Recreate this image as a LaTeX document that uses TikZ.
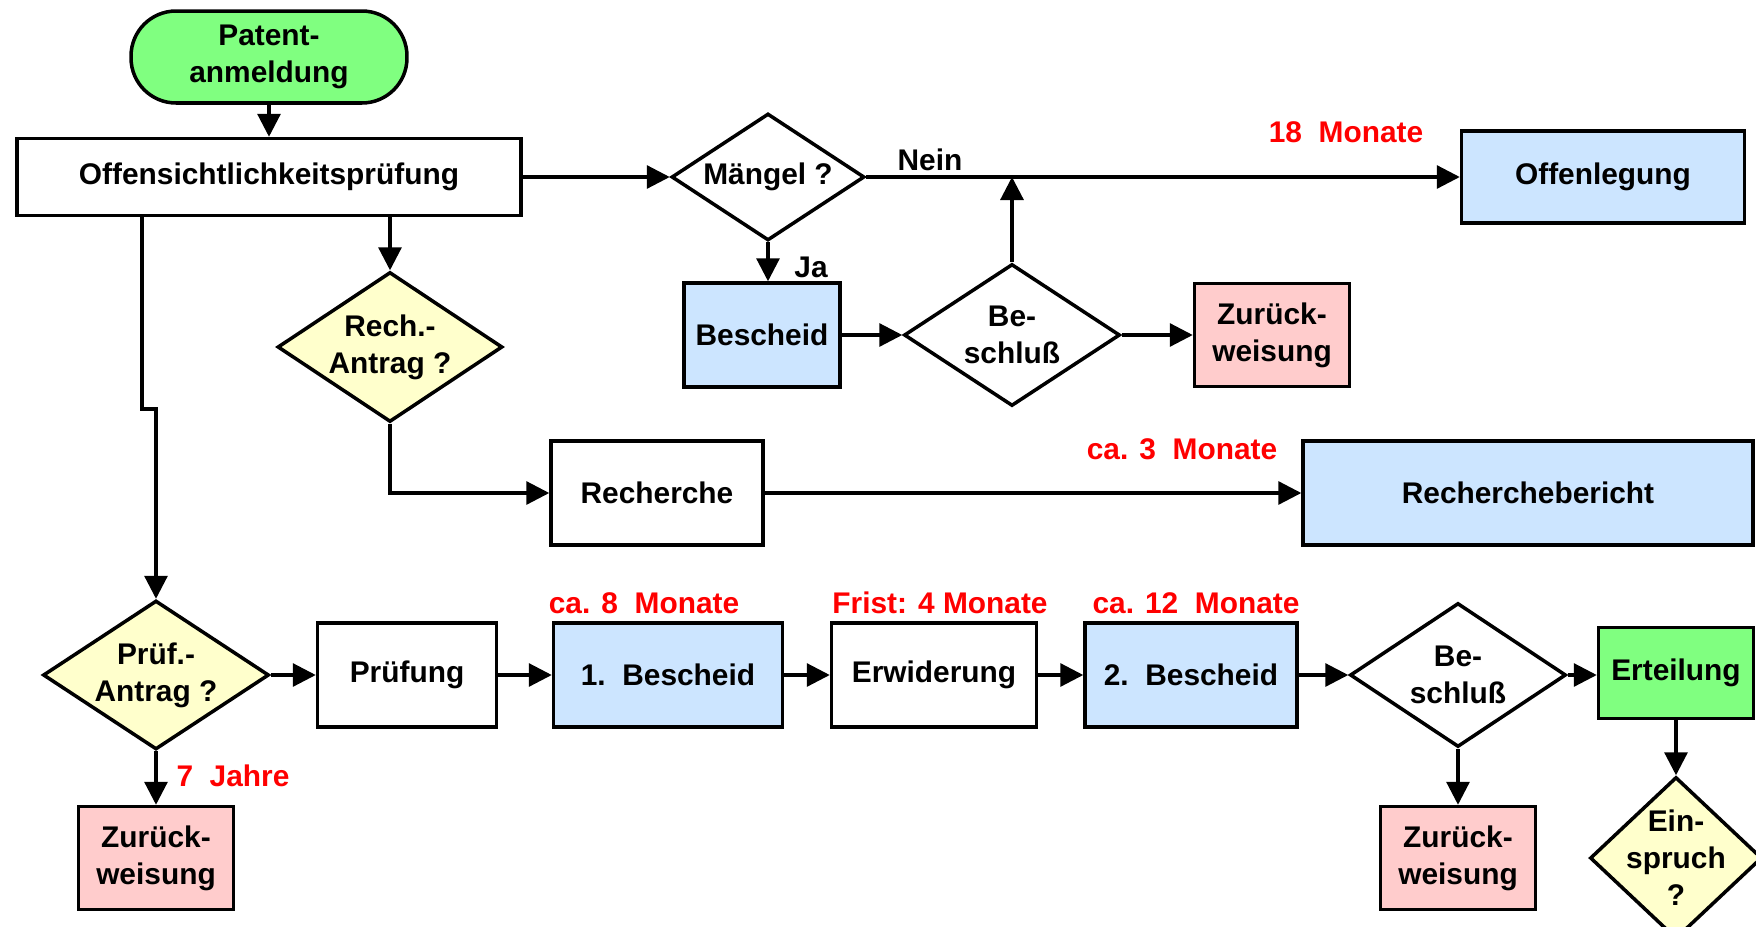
\documentclass[tikz,border=0pt]{standalone}
\usepackage{fontspec}
\setmainfont{Liberation Sans}
\usetikzlibrary{arrows.meta,positioning,shapes.geometric,calc}

\definecolor{startgreen}{HTML}{80FF80}
\definecolor{infoblue}{HTML}{CCE5FF}
\definecolor{askyellow}{HTML}{FFFFCC}
\definecolor{rejectpink}{HTML}{FFCCCC}

\begin{document}
\begin{tikzpicture}[x=0.02cm,y=-0.02cm]
		% Styles
		\tikzset{
			every node/.style={font=\fontsize{17}{21}\selectfont\bfseries},
			box/.style={draw=black, line width=2pt, rectangle, minimum height=2.08cm, align=center, inner sep=0pt},
			decision/.style={draw=black, line width=2pt, diamond, align=center, inner sep=0pt, shape aspect=1.5},
			flow/.style={line width=1.8pt, -{Triangle[length=0.46cm,width=0.46cm]}},
			dur/.style={text=red}
		}

		\useasboundingbox (0,0) rectangle (1756,927);

		% Top row
		\node[box, fill=startgreen, rounded corners=0.9cm, minimum width=5.52cm, minimum height=1.84cm] (start) at (269,57) {Patent-\\anmeldung};
		\node[box, minimum width=10.08cm, minimum height=1.54cm] (offcheck) at (269,177) {Offensichtlichkeitsprüfung};
		\node[decision, minimum width=3.86cm, minimum height=2.54cm] (maengel) at (768,177) {Mängel ?};
		\node[box, fill=infoblue, minimum width=5.66cm, minimum height=1.84cm] (offen) at (1603,177) {Offenlegung};

		% Defects branch
		\node[box, fill=infoblue, minimum width=3.12cm] (notice) at (762,335) {Bescheid};
		\node[decision, minimum width=4.32cm, minimum height=2.84cm] (decide1) at (1012,335) {Be-\\schluß};
		\node[box, fill=rejectpink, minimum width=3.1cm, minimum height=2.06cm] (reject1) at (1272,335) {Zurück-\\weisung};

		% Search branch
		\node[decision, fill=askyellow, minimum width=4.5cm, minimum height=3.0cm] (searchq) at (390,347) {Rech.-\\Antrag ?};
		\node[box, minimum width=4.24cm] (search) at (657,493) {Recherche};
		\node[box, fill=infoblue, minimum width=9.0cm] (report) at (1528,493) {Recherchebericht};

		% Examination row
		\node[decision, fill=askyellow, minimum width=4.52cm, minimum height=2.98cm] (examq) at (156,675) {Prüf.-\\Antrag ?};
		\node[box, minimum width=3.58cm] (exam) at (407,675) {Prüfung};
		\node[box, fill=infoblue, minimum width=4.58cm] (notice1) at (668,675) {1.\ \ Bescheid};
		\node[box, minimum width=4.1cm] (reply) at (934,675) {Erwiderung};
		\node[box, fill=infoblue, minimum width=4.24cm] (notice2) at (1191,675) {2.\ \ Bescheid};
		\node[decision, minimum width=4.32cm, minimum height=2.88cm] (decide2) at (1458,675) {Be-\\schluß};
		\node[box, fill=startgreen, minimum width=3.1cm, minimum height=1.82cm] (grant) at (1676,673) {Erteilung};

		% Bottom row
		\node[box, fill=rejectpink, minimum width=3.1cm, minimum height=2.06cm] (reject0) at (156,858) {Zurück-\\weisung};
		\node[box, fill=rejectpink, minimum width=3.1cm, minimum height=2.06cm] (reject2) at (1458,858) {Zurück-\\weisung};
		\node[decision, fill=askyellow, shape aspect=1.06, inner sep=-0.4cm, minimum width=3.44cm, minimum height=3.24cm] (oppose) at (1676,858) {Ein-\\spruch\\?};

		% Durations
		\node[dur] (t18) at (1346,132) {18\ \ Monate};
		\node[dur] (t3) at (1182,449) {ca. 3\ \ Monate};
		\node[dur, above=1pt of notice1, xshift=-0.48cm] (t8) {ca. 8\ \ Monate};
		\node[dur, above=1pt of reply, xshift=0.12cm] (t4) {Frist: 4 Monate};
		\node[dur, above=1pt of notice2, xshift=0.1cm] (t12) {ca. 12\ \ Monate};
		\node[dur] (t7) at (233,776) {7\ \ Jahre};

		% Connectors
		\coordinate (leftdrop) at (142,409);
		\draw[flow] (start) -- (offcheck);
		\draw[flow] (offcheck) -- (maengel);
		\draw[flow] (maengel.east) -- (offen.west);
		\node (no) at (930,160) {Nein};
		\draw[flow] (maengel.south) -- (maengel.south |- notice.north);
		\node (yes) at (811,267) {Ja};
		\draw[flow] (notice) -- (decide1);
		\draw[flow] (decide1.north) -- (decide1.north |- maengel.east);
		\draw[flow] (decide1) -- (reject1);
		\draw[flow] (searchq.north |- offcheck.south) -- (searchq.north);
		\draw[flow] (searchq.south) |- (search.west);
		\draw[flow] (search) -- (report);
		\draw[flow] (leftdrop |- offcheck.south) -- (leftdrop) -- (leftdrop -| examq.north) -- (examq.north);
		\draw[flow] (examq) -- (exam);
		\draw[flow] (examq) -- (reject0);
		\draw[flow] (exam) -- (notice1);
		\draw[flow] (notice1) -- (reply);
		\draw[flow] (reply) -- (notice2);
		\draw[flow] (notice2) -- (decide2);
		\draw[flow] (decide2.east) -- (decide2.east -| grant.west);
		\draw[flow] (decide2) -- (reject2);
		\draw[flow] (grant) -- (oppose);

	\end{tikzpicture}
\end{document}
